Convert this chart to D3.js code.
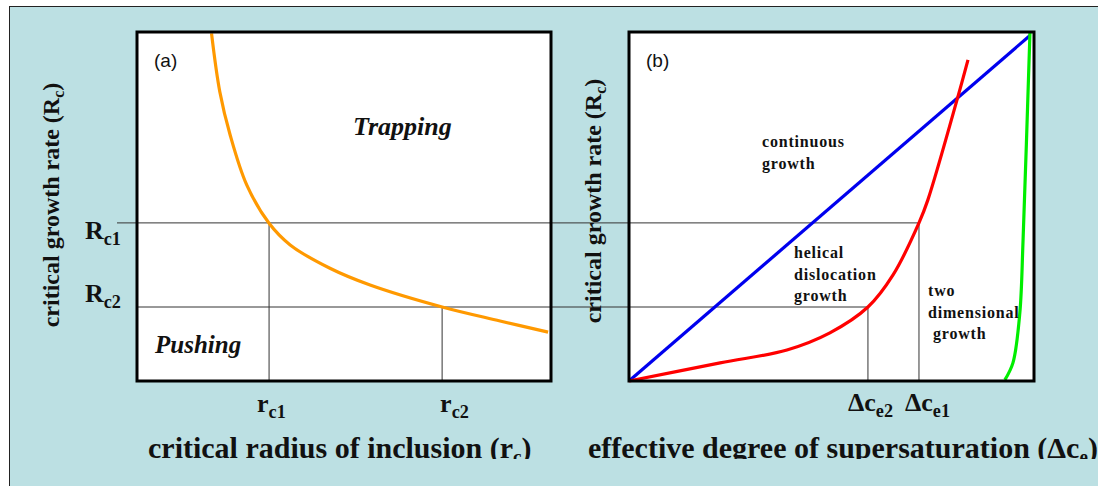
<!DOCTYPE html>
<html>
<head>
<meta charset="utf-8">
<script src="https://cdn.jsdelivr.net/npm/d3@7"></script>
<style>
  body { margin: 0; background: #fff; }
  text { font-family: "Liberation Serif", "Times New Roman", serif; font-weight: bold; fill: #111; }
</style>
</head>
<body>
<div id="chart"></div>
<script>
let width = 1098, height = 486;

// panel (a): inclusion pushing / trapping, values in 0..100 axis units
let orangeX = [18.0, 20.0, 22.5, 26.5, 31.9, 37.0, 46.6, 56.3, 73.7, 87.7, 99.3];
let orangeY = [99.6, 82.9, 70.5, 56.2, 45.2, 39.0, 32.3, 27.5, 21.2, 17.2, 14.0];
let Rc1 = 45.3, Rc2 = 21.2;
let rc1 = 31.9, rc2 = 73.7;

// panel (b): growth mechanisms
let blueX = [0, 99];
let blueY = [0, 99];
let redX = [0, 22.5, 39.0, 49.6, 59.0, 65.2, 71.6, 73.8, 81.2, 83.7];
let redY = [0, 5.2, 8.9, 13.8, 21.2, 30.4, 45.3, 51.9, 81.4, 92.0];
let greenX = [92.8, 94.8, 96.5, 97.3, 99.0];
let greenY = [0.3, 5.2, 19.5, 40.4, 99.7];
let dce2 = 59.0, dce1 = 71.6;

let svg = d3.select("#chart")
    .append("svg")
    .attr("width", width)
    .attr("height", height);

svg.append("rect")
    .attr("x", 9.5).attr("y", 6.5)
    .attr("width", width).attr("height", height)
    .attr("fill", "#bce0e3")
    .attr("stroke", "#222")
    .attr("stroke-width", 1);

let xA = d3.scaleLinear().domain([0, 100]).range([137, 551]);
let xB = d3.scaleLinear().domain([0, 100]).range([629, 1034]);
let yS = d3.scaleLinear().domain([0, 100]).range([381, 32]);

// white plot areas
[xA, xB].forEach(x => {
    svg.append("rect")
        .attr("x", x(0)).attr("y", yS(100))
        .attr("width", x(100) - x(0)).attr("height", yS(0) - yS(100))
        .attr("fill", "#fff");
});

// guide lines
let guide = svg.append("g").attr("stroke", "#333").attr("stroke-width", 1);
guide.append("line")
    .attr("x1", 117).attr("x2", xB(dce1))
    .attr("y1", yS(Rc1)).attr("y2", yS(Rc1));
guide.append("line")
    .attr("x1", xA(0)).attr("x2", xB(dce2))
    .attr("y1", yS(Rc2)).attr("y2", yS(Rc2));
guide.append("line")
    .attr("x1", xA(rc1)).attr("x2", xA(rc1))
    .attr("y1", yS(Rc1)).attr("y2", yS(0));
guide.append("line")
    .attr("x1", xA(rc2)).attr("x2", xA(rc2))
    .attr("y1", yS(Rc2)).attr("y2", yS(0));
guide.append("line")
    .attr("x1", xB(dce2)).attr("x2", xB(dce2))
    .attr("y1", yS(Rc2)).attr("y2", yS(0));
guide.append("line")
    .attr("x1", xB(dce1)).attr("x2", xB(dce1))
    .attr("y1", yS(Rc1)).attr("y2", yS(0));

function drawCurve(xs, ys, xScale, color) {
    let line = d3.line()
        .x(d => xScale(d[0]))
        .y(d => yS(d[1]))
        .curve(d3.curveCatmullRom);
    svg.append("path")
        .datum(xs.map((v, i) => [v, ys[i]]))
        .attr("d", line)
        .attr("fill", "none")
        .attr("stroke", color)
        .attr("stroke-width", 3.2);
}
drawCurve(orangeX, orangeY, xA, "#ff9900");
drawCurve(blueX, blueY, xB, "#0000ee");
drawCurve(redX, redY, xB, "#ff0000");
drawCurve(greenX, greenY, xB, "#00ee00");

// frames
[xA, xB].forEach(x => {
    svg.append("rect")
        .attr("x", x(0)).attr("y", yS(100))
        .attr("width", x(100) - x(0)).attr("height", yS(0) - yS(100))
        .attr("fill", "none")
        .attr("stroke", "#000")
        .attr("stroke-width", 3);
});

// panel letters
svg.append("text").attr("x", 154).attr("y", 67).text("(a)")
    .style("font-family", "Liberation Sans, Arial, sans-serif").style("font-weight", "normal")
    .attr("font-size", 19);
svg.append("text").attr("x", 646).attr("y", 67).text("(b)")
    .style("font-family", "Liberation Sans, Arial, sans-serif").style("font-weight", "normal")
    .attr("font-size", 19);

svg.append("text").attr("x", 353).attr("y", 135).text("Trapping")
    .attr("font-size", 26).style("font-style", "italic");
svg.append("text").attr("x", 155).attr("y", 353).text("Pushing")
    .attr("font-size", 25).style("font-style", "italic");

// subscripted labels
function subLabel(x, y, main, sub, size, anchor) {
    let t = svg.append("text").attr("x", x).attr("y", y)
        .attr("font-size", size).attr("text-anchor", anchor || "start");
    t.append("tspan").text(main);
    t.append("tspan").attr("dy", size * 0.22).attr("font-size", size * 0.7).text(sub);
    return t;
}
subLabel(85, 239, "R", "c1", 26);
subLabel(85, 302, "R", "c2", 26);
subLabel(xA(rc1) - 12, 412, "r", "c1", 26);
subLabel(xA(rc2) - 2, 412, "r", "c2", 26);
subLabel(848, 411, "\u0394c", "e2", 26);
subLabel(905, 411, "\u0394c", "e1", 26);

// axis titles (bottom edge is cut off in the original)
let clip = svg.append("clipPath").attr("id", "cut");
clip.append("rect").attr("x", 0).attr("y", 0).attr("width", width).attr("height", 459);

function xTitle(x, main, sub) {
    let t = svg.append("text").attr("x", x).attr("y", 457.5)
        .attr("font-size", 30).attr("clip-path", "url(#cut)");
    t.append("tspan").text(main);
    t.append("tspan").attr("dy", 5).attr("font-size", 19).text(sub);
    t.append("tspan").attr("dy", -5).text(")");
}
xTitle(148, "critical radius of inclusion (r", "c");
xTitle(588, "effective degree of supersaturation (\u0394c", "e");

function yTitle(cx, cy) {
    let t = svg.append("text")
        .attr("transform", `translate(${cx},${cy}) rotate(-90)`)
        .attr("text-anchor", "middle")
        .attr("font-size", 24);
    t.append("tspan").text("critical growth rate (R");
    t.append("tspan").attr("dy", 5).attr("font-size", 16).text("c");
    t.append("tspan").attr("dy", -5).text(")");
}
yTitle(59, 205);
yTitle(601, 201);

// region notes
function note(x, y, lines) {
    lines.forEach((s, i) => {
        svg.append("text").attr("x", x[i] !== undefined ? x[i] : x[0]).attr("y", y + i * 21.5)
            .attr("font-size", 16).style("letter-spacing", "0.8px")
            .text(s);
    });
}
note([762], 147, ["continuous", "growth"]);
note([794], 258, ["helical", "dislocation", "growth"]);
note([928, 928, 933], 296, ["two", "dimensional", "growth"]);
</script>
</body>
</html>
